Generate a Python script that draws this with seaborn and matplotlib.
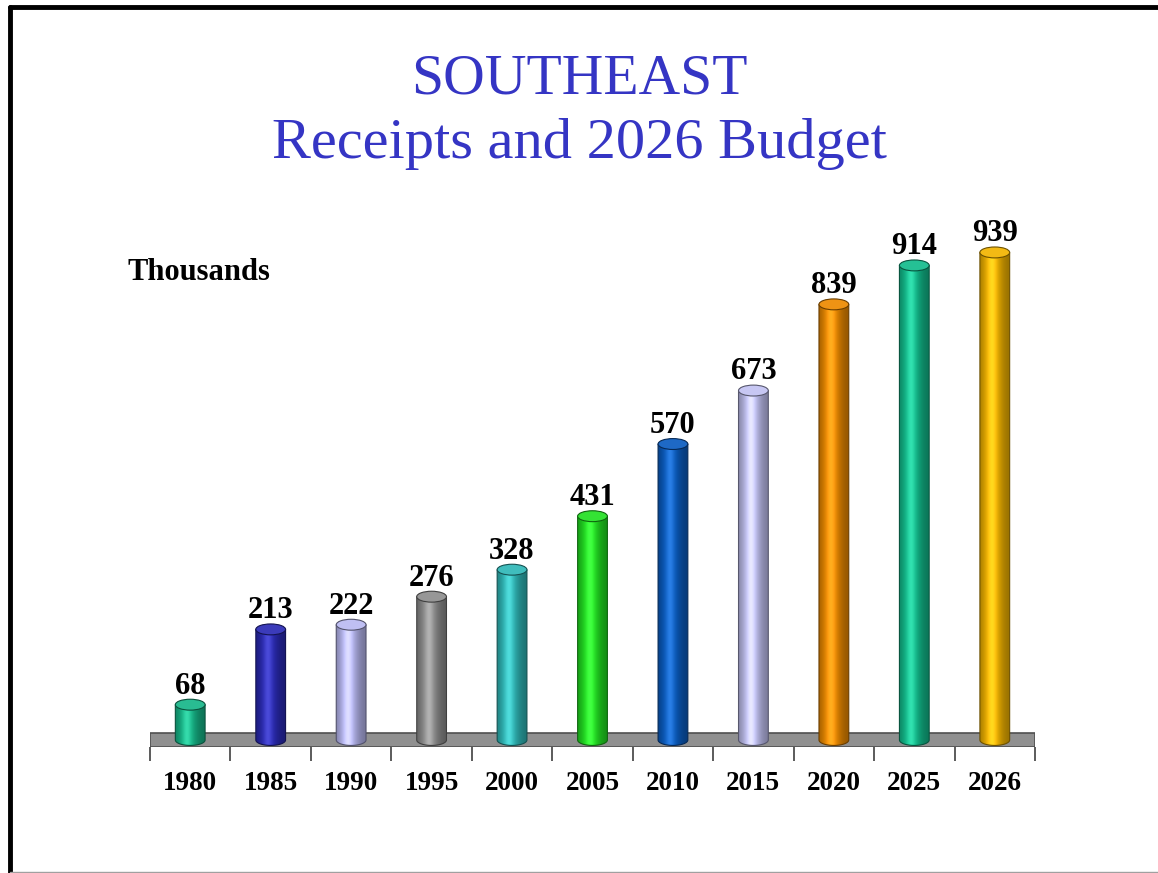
import numpy as np
import pandas as pd
import matplotlib
matplotlib.use("Agg")
import matplotlib.pyplot as plt
from matplotlib.patches import Polygon, Ellipse
from matplotlib.lines import Line2D
from matplotlib.colors import to_rgb
import seaborn as sns

years = ["1980", "1985", "1990", "1995", "2000", "2005", "2010", "2015", "2020", "2025", "2026"]
receipts = [68, 213, 222, 276, 328, 431, 570, 673, 839, 914, 939]
bar_colors = ["#16b688", "#2a2ab4", "#b9b9f2", "#8e8e8e", "#2fb7b7", "#22e022",
              "#0a5cc0", "#c2c2f2", "#ec8a00", "#12bc8c", "#f2b400"]

sns.set_theme(style="white")
plt.rcParams["font.family"] = ["Liberation Serif", "DejaVu Serif"]

df = pd.DataFrame({"year": years, "receipts": receipts})

fig = plt.figure(figsize=(11.58, 8.73), dpi=100)
ax = fig.add_axes([150 / 1158, 126 / 873, 885 / 1158, 547 / 873])

sns.barplot(data=df, x="year", y="receipts", hue="year", palette=bar_colors,
            width=0.37, legend=False, ax=ax, saturation=1)

ymin, ymax = -13.5, 1040
ell_h = 21  # ellipse height in data units

# floor slab
ax.axhspan(ymin, 13.5, facecolor="#909090", edgecolor="#505050", lw=1.2, zorder=1)


def shade(base, n=64):
    base = np.array(to_rgb(base))
    x = np.linspace(0, 1, n)
    g = np.exp(-((x - 0.4) / 0.34) ** 2)
    rgb = base[None, :] * (0.62 + 0.42 * g[:, None]) + 0.12 * (g[:, None] ** 6)
    return np.clip(rgb, 0, 1)[None, :, :]


for patch, col, val in zip(ax.patches, bar_colors, receipts):
    x0 = patch.get_x()
    w = patch.get_width()
    h = patch.get_height()
    x1 = x0 + w
    xc = x0 + w / 2
    patch.set_visible(False)
    edge = tuple(c * 0.45 for c in to_rgb(col))
    t = np.linspace(np.pi, 2 * np.pi, 40)
    bottom = np.column_stack([xc + w / 2 * np.cos(t), ell_h / 2 * np.sin(t)])
    pts = np.vstack([bottom, [[x1, h], [x0, h]]])
    body = Polygon(pts, closed=True, facecolor="none", edgecolor=edge, lw=0.8, zorder=3)
    ax.add_patch(body)
    im = ax.imshow(shade(col), extent=[x0, x1, -ell_h / 2, h], aspect="auto",
                   zorder=2.5, interpolation="bilinear")
    im.set_clip_path(body)
    top_col = np.clip(np.array(to_rgb(col)) * 0.92 + 0.08, 0, 1)
    ax.add_patch(Ellipse((xc, h), w, ell_h, facecolor=top_col,
                         edgecolor=edge, lw=0.8, zorder=4))
    ax.annotate(str(val), (xc, h + ell_h / 2), xytext=(0, -1), textcoords="offset points",
                ha="center", va="bottom", fontsize=22, fontweight="bold", color="black")

ax.set_xlim(-0.5, len(years) - 0.5)
ax.set_ylim(ymin, ymax)
ax.set_xlabel("")
ax.set_ylabel("")
ax.set_yticks([])
for s in ax.spines.values():
    s.set_visible(False)

ax.set_xticks(np.arange(len(years)))
ax.set_xticklabels(years, fontsize=19.5, fontweight="bold")
ax.set_xticks(np.arange(len(years) + 1) - 0.5, minor=True)
ax.tick_params(axis="x", which="major", length=0, pad=17, colors="black")
ax.tick_params(axis="x", which="minor", length=10, width=1.2, color="#404040", bottom=True)

fig.text(0.5, 1 - 93 / 873, "SOUTHEAST", ha="center", va="baseline",
         fontsize=41.5, color="#3535c4")
fig.text(0.5, 1 - 158 / 873, "Receipts and 2026 Budget", ha="center", va="baseline",
         fontsize=42, color="#3535c4")
fig.text(128 / 1158, 1 - 280 / 873, "Thousands", ha="left", va="baseline",
         fontsize=22, fontweight="bold", color="black")

# slide frame
fig.add_artist(Line2D([10 / 1158, 1], [1 - 6.5 / 873] * 2, color="black", lw=3.5,
                      transform=fig.transFigure))
fig.add_artist(Line2D([10 / 1158] * 2, [0, 1 - 6.5 / 873], color="black", lw=3.5,
                      transform=fig.transFigure))
fig.add_artist(Line2D([10 / 1158, 1], [1.5 / 873] * 2, color="#a0a0a0", lw=1,
                      transform=fig.transFigure))

fig.savefig("out.png", dpi=100, facecolor="white")
